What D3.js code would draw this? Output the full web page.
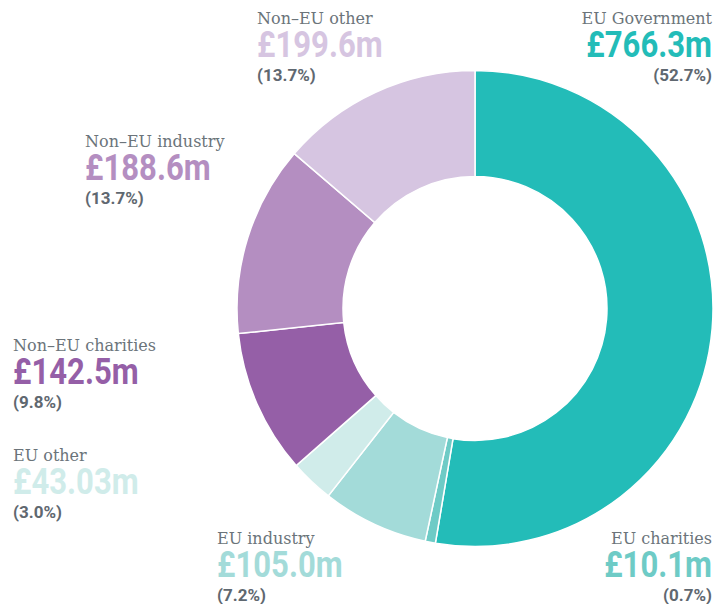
<!DOCTYPE html>
<html>
<head>
<meta charset="utf-8">
<script src="https://cdn.jsdelivr.net/npm/d3@7"></script>
<style>
  body { margin: 0; background: #fff; }
  .lbl { font-family: "DejaVu Serif", Georgia, serif; fill: #6b747a; }
  .val { font-family: "Roboto", "Liberation Sans", sans-serif; font-weight: bold; }
  .pct { font-family: "Roboto", "Liberation Sans", sans-serif; font-weight: bold; fill: #5f6870; }
</style>
</head>
<body>
<svg id="chart" width="718" height="604"></svg>
<script>
// data, clockwise from 12 o'clock
var categories = ['EU Government', 'EU charities', 'EU industry', 'EU other',
                  'Non\u2013EU charities', 'Non\u2013EU industry', 'Non\u2013EU other'];
var amounts = [766.3, 10.1, 105.0, 43.03, 142.5, 188.6, 199.6];
var amountLabels = ['\u00a3766.3m', '\u00a310.1m', '\u00a3105.0m', '\u00a343.03m',
                    '\u00a3142.5m', '\u00a3188.6m', '\u00a3199.6m'];
var pctLabels = ['(52.7%)', '(0.7%)', '(7.2%)', '(3.0%)', '(9.8%)', '(13.7%)', '(13.7%)'];
var colours = ['#23bcb8', '#6ecbc6', '#a3dbd9', '#d0ecea', '#955fa7', '#b48ec1', '#d6c5e1'];

var svg = d3.select('#chart');

// ring
var cx = 475, cy = 308.5,
    outerR = 238, innerR = 132;

var pie = d3.pie().sort(null).value(function(d) { return d; });
var arc = d3.arc().innerRadius(innerR).outerRadius(outerR);

var g = svg.append('g').attr('transform', 'translate(' + cx + ',' + cy + ')');
g.selectAll('path')
  .data(pie(amounts))
  .enter()
  .append('path')
  .attr('d', arc)
  .attr('fill', function(d, i) { return colours[i]; })
  .attr('stroke', '#fff')
  .attr('stroke-width', 1.5);

// label blocks: x, anchor, baseline of first line
var spots = [
  {x: 712, anchor: 'end',   y: 24},
  {x: 712, anchor: 'end',   y: 544},
  {x: 217, anchor: 'start', y: 544},
  {x: 13,  anchor: 'start', y: 461},
  {x: 13,  anchor: 'start', y: 351},
  {x: 85,  anchor: 'start', y: 147},
  {x: 257, anchor: 'start', y: 24}
];

var labels = svg.selectAll('.label')
  .data(categories)
  .enter()
  .append('g')
  .attr('class', 'label')
  .attr('text-anchor', function(d, i) { return spots[i].anchor; })
  .attr('transform', function(d, i) { return 'translate(' + spots[i].x + ',' + spots[i].y + ')'; });

labels.append('text')
  .attr('class', 'lbl')
  .attr('font-size', 16)
  .text(function(d) { return d; });

// no condensed face installed, so squeeze the sans horizontally
labels.append('text')
  .attr('class', 'val')
  .attr('transform', 'translate(0,33) scale(0.84,1)')
  .attr('font-size', 37)
  .attr('fill', function(d, i) { return colours[i]; })
  .text(function(d, i) { return amountLabels[i]; });

labels.append('text')
  .attr('class', 'pct')
  .attr('y', 57)
  .attr('font-size', 17)
  .text(function(d, i) { return pctLabels[i]; });
</script>
</body>
</html>
